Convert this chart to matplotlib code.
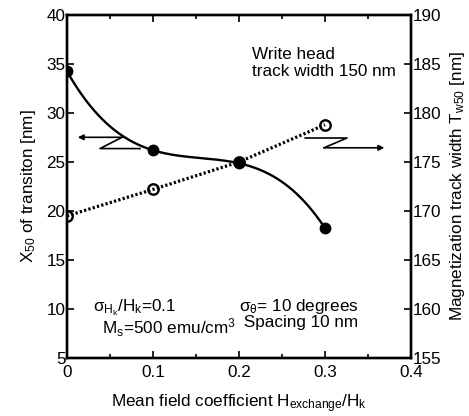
import numpy as np
import matplotlib
matplotlib.use("Agg")
import matplotlib.pyplot as plt

plt.rcParams['font.family'] = ['Liberation Sans', 'DejaVu Sans']
plt.rcParams['mathtext.fontset'] = 'custom'
plt.rcParams['mathtext.rm'] = 'Liberation Sans'
plt.rcParams['mathtext.it'] = 'Liberation Sans'
plt.rcParams['mathtext.default'] = 'regular'

# Data
h_exchange = [0.0, 0.1, 0.2, 0.3]
x50 = [34.25, 26.2, 24.87, 18.25]          # left axis, nm
tw50 = [169.5, 172.2, 175.0, 178.8]        # right axis, nm
x_ticks = [0, 0.1, 0.2, 0.3, 0.4]
x_ticklabels = ['0', '0.1', '0.2', '0.3', '0.4']
left_ticks = [5, 10, 15, 20, 25, 30, 35, 40]
right_ticks = [155, 160, 165, 170, 175, 180, 185, 190]

fig = plt.figure(figsize=(4.69, 4.16), dpi=100)
ax = fig.add_axes([67/469, 1-358/416, (411-67)/469, (358-15)/416])
ax2 = ax.twinx()

FS = 12.3

# smooth curve through filled points (cubic through 4 points)
coef = np.polyfit(h_exchange, x50, 3)
xs = np.linspace(h_exchange[0], h_exchange[-1], 200)
ax.plot(xs, np.polyval(coef, xs), color='black', lw=1.7, zorder=3)
ax.plot(h_exchange, x50, 'o', color='black', ms=7.5, zorder=4)

ax2.plot(h_exchange, tw50, color='black', lw=2.3, linestyle=(0, (0.7, 0.7)), zorder=3)
ax2.plot(h_exchange, tw50, 'o', mfc='none', mec='black', mew=1.7, ms=7.5, zorder=4)

ax.set_xlim(0, 0.4)
ax.set_ylim(5, 40)
ax2.set_ylim(155, 190)
ax.set_xticks(x_ticks)
ax.set_xticklabels(x_ticklabels)
ax.set_xticks([0.05, 0.15, 0.25, 0.35], minor=True)
ax.set_yticks(left_ticks)
ax2.set_yticks(right_ticks)

for a in (ax, ax2):
    for s in a.spines.values():
        s.set_linewidth(1.7)
ax.tick_params(axis='x', which='both', direction='in', top=True, bottom=True,
               labelsize=FS, width=1.2, pad=5)
ax.tick_params(axis='x', which='major', length=5)
ax.tick_params(axis='x', which='minor', length=3)
ax.tick_params(axis='y', direction='in', length=5, width=1.2, labelsize=FS, pad=1)
ax2.tick_params(axis='y', direction='in', length=5, width=1.2, labelsize=FS, pad=1)
for lbl in ax.get_yticklabels():
    lbl.set_verticalalignment('center_baseline')

ax.set_xlabel('Mean field coefficient H$_{exchange}$/H$_k$', fontsize=FS, labelpad=9)
ax.set_ylabel('X$_{50}$ of transiton [nm]', fontsize=FS, labelpad=6)
ax2.set_ylabel('Magnetization track width T$_{w50}$ [nm]', fontsize=FS, labelpad=5)

# annotations
ax.text(0.215, 35.5, 'Write head', fontsize=FS)
ax.text(0.215, 33.8, 'track width 150 nm', fontsize=FS)
ax.text(0.030, 11.2, 'σ$_{H_k}$/H$_k$=0.1\n  M$_s$=500 emu/cm$^3$', fontsize=FS,
        va='top', linespacing=0.92)
ax.text(0.200, 11.2, 'σ$_θ$= 10 degrees\n Spacing 10 nm', fontsize=FS,
        va='top', linespacing=0.92)

# left Z-arrow
ax.plot([0.064, 0.0384, 0.085], [27.52, 26.37, 26.37], color='black', lw=1.2)
ax.annotate('', xy=(0.0125, 27.52), xytext=(0.064, 27.52),
            arrowprops=dict(arrowstyle='-|>', color='black', lw=1.2,
                            mutation_scale=8, shrinkA=0, shrinkB=0))
# right Z-arrow
ax.plot([0.277, 0.3256, 0.2988], [27.45, 27.45, 26.45], color='black', lw=1.2)
ax.annotate('', xy=(0.369, 26.45), xytext=(0.2988, 26.45),
            arrowprops=dict(arrowstyle='-|>', color='black', lw=1.2,
                            mutation_scale=8, shrinkA=0, shrinkB=0))

fig.savefig('out.png', dpi=100)
